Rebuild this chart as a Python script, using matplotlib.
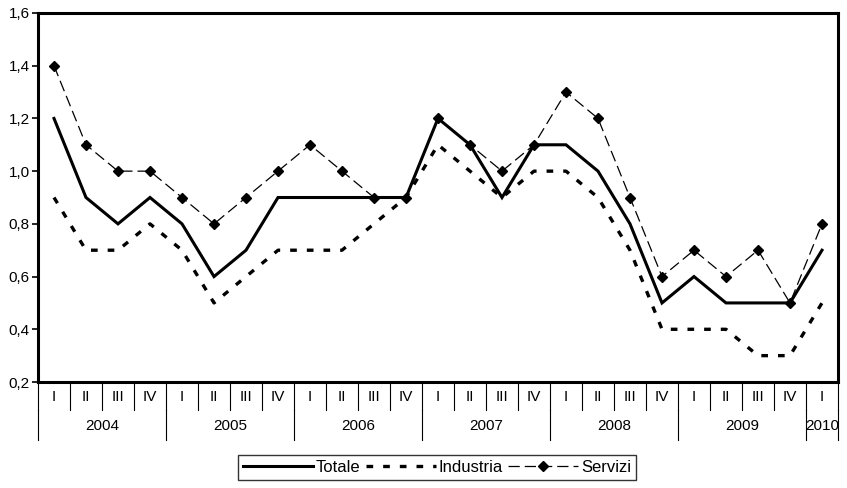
import matplotlib
matplotlib.use("Agg")
import matplotlib.pyplot as plt
from matplotlib import font_manager

years = ["2004", "2005", "2006", "2007", "2008", "2009", "2010"]
quarters = ["I", "II", "III", "IV"] * 6 + ["I"]
quarters_per_year = [4, 4, 4, 4, 4, 4, 1]

totale = [1.2, 0.9, 0.8, 0.9, 0.8, 0.6, 0.7, 0.9, 0.9, 0.9, 0.9, 0.9,
          1.2, 1.1, 0.9, 1.1, 1.1, 1.0, 0.8, 0.5, 0.6, 0.5, 0.5, 0.5, 0.7]
industria = [0.9, 0.7, 0.7, 0.8, 0.7, 0.5, 0.6, 0.7, 0.7, 0.7, 0.8, 0.9,
             1.1, 1.0, 0.9, 1.0, 1.0, 0.9, 0.7, 0.4, 0.4, 0.4, 0.3, 0.3, 0.5]
servizi = [1.4, 1.1, 1.0, 1.0, 0.9, 0.8, 0.9, 1.0, 1.1, 1.0, 0.9, 0.9,
           1.2, 1.1, 1.0, 1.1, 1.3, 1.2, 0.9, 0.6, 0.7, 0.6, 0.7, 0.5, 0.8]
yticks = [0.2, 0.4, 0.6, 0.8, 1.0, 1.2, 1.4, 1.6]

names = {f.name for f in font_manager.fontManager.ttflist}
fam = "Liberation Sans Narrow" if "Liberation Sans Narrow" in names else "Liberation Sans"
plt.rcParams["font.family"] = [fam, "DejaVu Sans"]

fig = plt.figure(figsize=(8.47, 4.88), dpi=100)
ax = fig.add_axes([38/847, 1-382/488, 800/847, 369/488])

x = list(range(len(totale)))
ax.plot(x, totale, color="black", lw=2.2, solid_joinstyle="miter", label="Totale")
ax.plot(x, industria, color="black", lw=2.4, linestyle=(0, (2.0, 3.0)),
        dash_capstyle="butt", label="Industria")
ax.plot(x, servizi, color="black", lw=0.9, linestyle=(0, (9, 4)),
        marker="D", markersize=5.5, label="Servizi")

ax.set_xlim(-0.5, len(x) - 0.5)
ax.set_ylim(0.2, 1.6)
ax.set_yticks(yticks)
ax.set_yticklabels([f"{v:.1f}".replace(".", ",") for v in yticks], fontsize=11)
ax.tick_params(axis="y", direction="out", length=4, width=1.2, pad=2)
ax.set_xticks([])
for s in ax.spines.values():
    s.set_linewidth(2.2)

tr = ax.get_xaxis_transform()
# quarter separators and labels
for k in range(len(x) + 1):
    ax.plot([k - 0.5, k - 0.5], [0, -0.075], transform=tr, color="black",
            lw=0.8, clip_on=False)
for i, q in enumerate(quarters):
    ax.text(i, -0.04, q, transform=tr, ha="center", va="center", fontsize=11)
# year separators and labels
start = 0
bounds = [-0.5]
for y, n in zip(years, quarters_per_year):
    center = start + (n - 1) / 2
    ax.text(center, -0.118, y, transform=tr, ha="center", va="center", fontsize=11)
    start += n
    bounds.append(start - 0.5)
for b in bounds:
    ax.plot([b, b], [-0.075, -0.157], transform=tr, color="black",
            lw=0.8, clip_on=False)

leg = fig.legend(loc="center", bbox_to_anchor=(437/847, 1-467/488), ncol=3,
                 frameon=True, fancybox=False, edgecolor="black", fontsize=12,
                 handlelength=4.2, handletextpad=0.2, columnspacing=0.3,
                 borderpad=0.3)
leg.get_frame().set_linewidth(1.0)

fig.savefig("out.png", dpi=100)
